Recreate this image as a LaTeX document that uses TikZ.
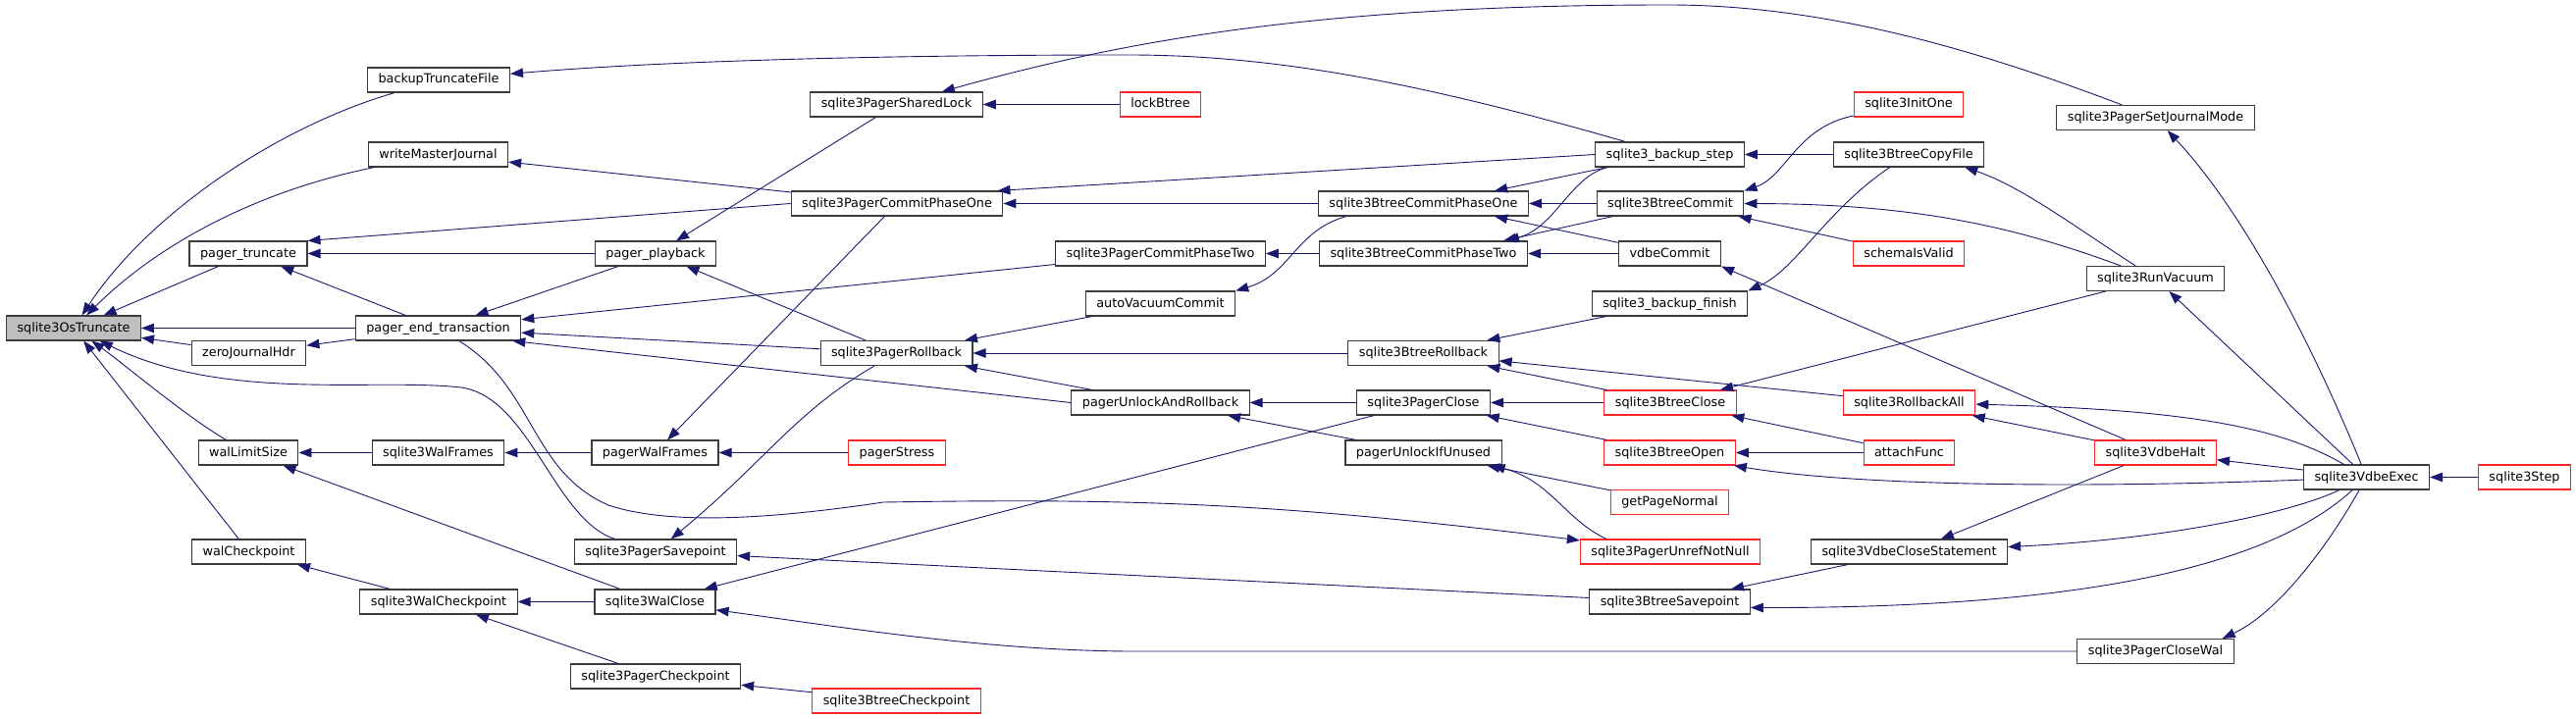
\documentclass[tikz,border=0pt]{standalone}
\usepackage{fontspec}
\setmainfont{DejaVu Sans}
\usetikzlibrary{arrows.meta}
\definecolor{edgeblue}{RGB}{25,25,112}
\definecolor{boxgray}{RGB}{60,60,60}
\definecolor{boxred}{RGB}{250,40,40}
\definecolor{rootfill}{RGB}{191,191,191}
\begin{document}
\begin{tikzpicture}[x=1pt,y=-1pt,
    fn/.style={draw=boxgray, line width=1.1pt, rectangle, minimum height=25pt, inner xsep=11pt, inner ysep=0pt,
      text height=10pt, text depth=3pt, font=\fontsize{12.8}{15}\selectfont},
    fnred/.style={fn, draw=boxred},
    fnroot/.style={fn, fill=rootfill},
    call/.style={draw=edgeblue, line width=0.9pt, -{Triangle[length=13pt,width=9.5pt]}}]
    \useasboundingbox (0,0) rectangle (2625,733);
    \fill[white] (0,0) rectangle (2625,733);

    \node[fnroot] (trunc) at (75,334.5) {sqlite3OsTruncate};
    \node[fn] (pgTrunc) at (253,258.5) {pager\_truncate};
    \node[fn] (zeroJH) at (253.5,360) {zeroJournalHdr};
    \node[fn] (walLimit) at (253,461.5) {walLimitSize};
    \node[fn] (walCkpt) at (253.5,562.5) {walCheckpoint};
    \node[fn] (backupTF) at (447,81.5) {backupTruncateFile};
    \node[fn] (writeMJ) at (446.5,157.5) {writeMasterJournal};
    \node[fn] (pgEnd) at (446.5,334.5) {pager\_end\_transaction};
    \node[fn] (sqWalFrames) at (446.5,461.5) {sqlite3WalFrames};
    \node[fn] (sqWalCkpt) at (447,613.5) {sqlite3WalCheckpoint};
    \node[fn] (playback) at (668,258.5) {pager\_playback};
    \node[fn] (walFrames) at (667.5,461.5) {pagerWalFrames};
    \node[fn] (pSavept) at (668,562.5) {sqlite3PagerSavepoint};
    \node[fn] (walClose) at (667.5,613.5) {sqlite3WalClose};
    \node[fn] (pCkpt) at (668,689.5) {sqlite3PagerCheckpoint};
    \node[fn] (sharedLock) at (913.5,106.5) {sqlite3PagerSharedLock};
    \node[fn] (pCommit1) at (914,207.5) {sqlite3PagerCommitPhaseOne};
    \node[fn] (pRollback) at (913.5,360) {sqlite3PagerRollback};
    \node[fnred] (stress) at (914,461.5) {pagerStress};
    \node[fnred] (bCkpt) at (913.5,714.5) {sqlite3BtreeCheckpoint};
    \node[fnred] (lockBtree) at (1182.5,106.5) {lockBtree};
    \node[fn] (pCommit2) at (1182.5,258.5) {sqlite3PagerCommitPhaseTwo};
    \node[fn] (autoVac) at (1182.5,309.5) {autoVacuumCommit};
    \node[fn] (unlockRb) at (1182.5,410.5) {pagerUnlockAndRollback};
    \node[fn] (bCommit1) at (1450.5,207.5) {sqlite3BtreeCommitPhaseOne};
    \node[fn] (bCommit2) at (1450.5,258.5) {sqlite3BtreeCommitPhaseTwo};
    \node[fn] (bRollback) at (1450.5,360) {sqlite3BtreeRollback};
    \node[fn] (pClose) at (1450.5,410.5) {sqlite3PagerClose};
    \node[fn] (unlockUnused) at (1450.5,461.5) {pagerUnlockIfUnused};
    \node[fn] (bkStep) at (1701.5,157.5) {sqlite3\_backup\_step};
    \node[fn] (bCommit) at (1702,207.5) {sqlite3BtreeCommit};
    \node[fn] (vdbeCommit) at (1701.5,258.5) {vdbeCommit};
    \node[fn] (bkFinish) at (1701.5,309.5) {sqlite3\_backup\_finish};
    \node[fnred] (bClose) at (1702,410.5) {sqlite3BtreeClose};
    \node[fnred] (bOpen) at (1701.5,461.5) {sqlite3BtreeOpen};
    \node[fnred] (getPage) at (1701.5,512) {getPageNormal};
    \node[fnred] (unref) at (1702,562.5) {sqlite3PagerUnrefNotNull};
    \node[fn] (bSavept) at (1701.5,613.5) {sqlite3BtreeSavepoint};
    \node[fnred] (initOne) at (1945,106.5) {sqlite3InitOne};
    \node[fn] (copyFile) at (1945,157.5) {sqlite3BtreeCopyFile};
    \node[fnred] (schemaValid) at (1945,258.5) {schemaIsValid};
    \node[fnred] (rollAll) at (1945.5,410.5) {sqlite3RollbackAll};
    \node[fnred] (attach) at (1945.5,461.5) {attachFunc};
    \node[fn] (closeStmt) at (1945.5,562.5) {sqlite3VdbeCloseStatement};
    \node[fn] (setJM) at (2196.5,120) {sqlite3PagerSetJournalMode};
    \node[fn] (runVac) at (2196.5,284) {sqlite3RunVacuum};
    \node[fnred] (vdbeHalt) at (2196.5,461.5) {sqlite3VdbeHalt};
    \node[fn] (closeWal) at (2196.5,664) {sqlite3PagerCloseWal};
    \node[fn] (vdbeExec) at (2411.5,486.5) {sqlite3VdbeExec};
    \node[fnred] (step) at (2572.5,486.5) {sqlite3Step};

    % callers of sqlite3OsTruncate
    \draw[call] (backupTF) .. controls (280,130) and (150,220) .. (trunc);
    \draw[call] (writeMJ) .. controls (260,195) and (160,250) .. (trunc);
    \draw[call] (pgTrunc) -- (trunc);
    \draw[call] (pgEnd) -- (trunc);
    \draw[call] (zeroJH) -- (trunc);
    \draw[call] (walLimit) .. controls (190,425) and (125,370) .. (trunc);
    \draw[call] (walCkpt) -- (trunc);
    \draw[call] (pSavept) .. controls (565,530) and (540,405) .. (470,395) .. controls (380,385) and (230,410) .. (trunc);

    \draw[call] (bkStep) .. controls (1450,85) and (1300,56) .. (1150,56) .. controls (950,56) and (700,60) .. (backupTF);
    \draw[call] (pCommit1) -- (writeMJ);
    \draw[call] (pCommit1.west) -- (pgTrunc.north east);
    \draw[call] (playback) -- (pgTrunc);
    \draw[call] (pgEnd) -- (pgTrunc);
    \draw[call] (pgEnd) -- (zeroJH);
    \draw[call] (sqWalFrames) -- (walLimit);
    \draw[call] (walClose) -- (walLimit);
    \draw[call] (sqWalCkpt) -- (walCkpt);

    \draw[call] (playback) -- (pgEnd);
    \draw[call] (pCommit2) -- (pgEnd);
    \draw[call] (pRollback) -- (pgEnd);
    \draw[call] (unlockRb.west) -- ([xshift=-9pt]pgEnd.south east);
    \draw[call] (pgEnd) .. controls (545,395) and (540,480) .. (620,515) .. controls (680,535) and (780,530) .. (900,512) .. controls (1150,508) and (1300,512) .. (unref);
    \draw[call] (walFrames) -- (sqWalFrames);
    \draw[call] (walClose) -- (sqWalCkpt);
    \draw[call] (pCkpt) -- (sqWalCkpt);

    \draw[call] (sharedLock) -- (playback);
    \draw[call] (pRollback) -- (playback);
    \draw[call] (pCommit1) -- (walFrames);
    \draw[call] (stress) -- (walFrames);
    \draw[call] (pRollback) .. controls (810,420) and (780,470) .. (pSavept);
    \draw[call] (bSavept) -- (pSavept);
    \draw[call] (pClose) -- (walClose);
    \draw[call] (closeWal) -- (1150,664) .. controls (1000,663) and (850,638) .. (walClose);
    \draw[call] (bCkpt) -- (pCkpt);

    \draw[call] (setJM) .. controls (2000,45) and (1850,5) .. (1700,5) .. controls (1350,5) and (1150,40) .. (sharedLock);
    \draw[call] (lockBtree) -- (sharedLock);
    \draw[call] (bkStep.west) -- ([xshift=-6pt]pCommit1.north east);
    \draw[call] (bCommit1) -- (pCommit1);
    \draw[call] (autoVac) -- (pRollback);
    \draw[call] (bRollback) -- (pRollback);
    \draw[call] (unlockRb) -- (pRollback);

    \draw[call] (bCommit2) -- (pCommit2);
    \draw[call] ([xshift=29pt]bCommit1.south west) .. controls (1320,235) and (1315,280) .. (autoVac.north east);
    \draw[call] (pClose) -- (unlockRb);
    \draw[call] (unlockUnused) -- (unlockRb);

    \draw[call] ([xshift=13pt]bkStep.south west) -- ([xshift=-35pt]bCommit1.north east);
    \draw[call] (bCommit) -- (bCommit1);
    \draw[call] (vdbeCommit) -- ([xshift=-35pt]bCommit1.south east);
    \draw[call] ([xshift=13pt]bkStep.south west) .. controls (1600,180) and (1585,232) .. ([xshift=-22pt]bCommit2.north east);
    \draw[call] (bCommit) -- ([xshift=-25pt]bCommit2.north east);
    \draw[call] (vdbeCommit) -- (bCommit2);
    \draw[call] (bkFinish) -- (bRollback);
    \draw[call] (rollAll) -- (bRollback);
    \draw[call] (bClose) -- (bRollback);
    \draw[call] (bClose) -- (pClose);
    \draw[call] (bOpen) -- (pClose);
    \draw[call] (getPage) -- (unlockUnused);
    \draw[call] ([xshift=-65pt]unref.north) .. controls (1595,530) and (1580,490) .. ([xshift=-10pt]unlockUnused.south east);

    \draw[call] (copyFile) -- (bkStep);
    \draw[call] (initOne) .. controls (1830,130) and (1820,180) .. (bCommit.north east);
    \draw[call] (runVac) .. controls (2050,230) and (1950,208) .. (bCommit.east);
    \draw[call] (schemaValid) -- ([xshift=-6pt]bCommit.south east);
    \draw[call] (vdbeHalt) -- (vdbeCommit.south east);
    \draw[call] (copyFile) .. controls (1860,215) and (1830,275) .. (bkFinish.north east);
    \draw[call] (runVac) -- (bClose);
    \draw[call] (attach) -- (bClose);
    \draw[call] (attach) -- (bOpen);
    \draw[call] (vdbeExec) .. controls (2150,497) and (1900,497) .. ([xshift=-2pt]bOpen.south east);
    \draw[call] (closeStmt) -- (bSavept);
    \draw[call] (vdbeExec) .. controls (2320,570) and (2150,620) .. ([yshift=-6pt]bSavept.east);

    \draw[call] (runVac) .. controls (2120,235) and (2060,190) .. ([xshift=-20pt]copyFile.south east);
    \draw[call] (vdbeExec) .. controls (2330,440) and (2250,418) .. (rollAll);
    \draw[call] (vdbeHalt) -- (rollAll);
    \draw[call] (vdbeHalt) -- (closeStmt);
    \draw[call] (vdbeExec) .. controls (2330,525) and (2200,550) .. (closeStmt);

    \draw[call] (vdbeExec) .. controls (2360,360) and (2290,220) .. (setJM);
    \draw[call] (vdbeExec) -- (runVac);
    \draw[call] (vdbeExec) -- (vdbeHalt);
    \draw[call] (vdbeExec) .. controls (2370,560) and (2320,625) .. ([xshift=-12pt]closeWal.north east);
    \draw[call] (step) -- (vdbeExec);
\end{tikzpicture}
\end{document}
